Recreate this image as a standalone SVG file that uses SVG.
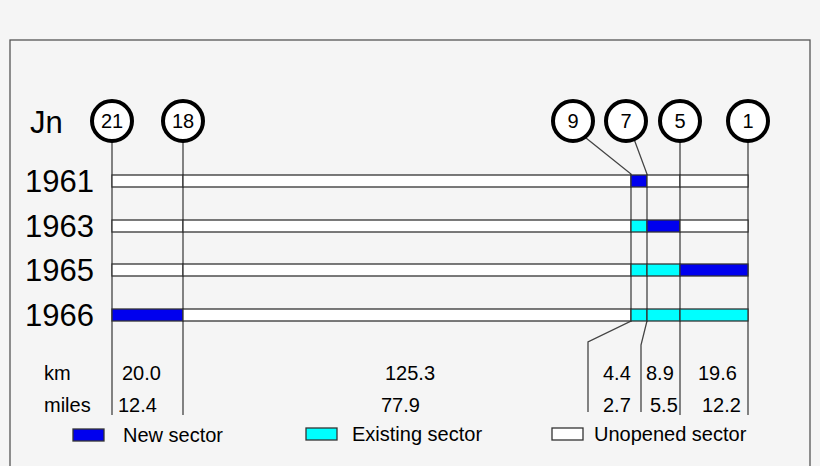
<svg xmlns="http://www.w3.org/2000/svg" width="820" height="466" viewBox="0 0 820 466">
<style>
text{font-family:"Liberation Sans",Arial,sans-serif;fill:#000}
.c{fill:#fff;stroke:#000;stroke-width:4}
.l{fill:none;stroke:#444;stroke-width:1.3}
.u{fill:#fff;stroke:#333;stroke-width:1.3}
.n{fill:#0000ee;stroke:#333;stroke-width:1.3}
.e{fill:#00ffff;stroke:#333;stroke-width:1.3}
.y{font-size:31px}
.t{font-size:20px}
.ct{font-size:20px;text-anchor:middle}
</style>
<rect width="820" height="466" fill="#f5f5f5"/>
<rect x="10" y="40" width="800" height="440" fill="none" stroke="#555" stroke-width="1.3"/>
<g id="connectors">
<path class="l" d="M112 141V415M183 141V415M680 141V415M748 141V415"/>
<path class="l" d="M586 138L631 174V321L588 342V412"/>
<path class="l" d="M634 139L647 174V321L641 345V412"/>
</g>
<g id="n21"><circle class="c" cx="112" cy="121" r="20"/><text class="ct" x="112" y="128">21</text></g>
<g id="n18"><circle class="c" cx="183" cy="121" r="20"/><text class="ct" x="183" y="128">18</text></g>
<g id="n9"><circle class="c" cx="573" cy="121" r="20"/><text class="ct" x="573" y="128">9</text></g>
<g id="n7"><circle class="c" cx="626" cy="121" r="20"/><text class="ct" x="626" y="128">7</text></g>
<g id="n5"><circle class="c" cx="680" cy="121" r="20"/><text class="ct" x="680" y="128">5</text></g>
<g id="n1"><circle class="c" cx="748" cy="121" r="20"/><text class="ct" x="748" y="128">1</text></g>
<text x="30" y="133" class="y">Jn</text>
<g id="r1961"><text x="25" y="192" class="y">1961</text>
<rect class="u" x="112" y="175" width="71" height="12"/><rect class="u" x="183" y="175" width="448" height="12"/><rect class="n" x="631" y="175" width="16" height="12"/><rect class="u" x="647" y="175" width="33" height="12"/><rect class="u" x="680" y="175" width="68" height="12" stroke-width="2"/></g>
<g id="r1963"><text x="25" y="237" class="y">1963</text>
<rect class="u" x="112" y="220" width="71" height="12"/><rect class="u" x="183" y="220" width="448" height="12"/><rect class="e" x="631" y="220" width="16" height="12"/><rect class="n" x="647" y="220" width="33" height="12"/><rect class="u" x="680" y="220" width="68" height="12" stroke-width="2"/></g>
<g id="r1965"><text x="25" y="281" class="y">1965</text>
<rect class="u" x="112" y="264" width="71" height="12"/><rect class="u" x="183" y="264" width="448" height="12"/><rect class="e" x="631" y="264" width="16" height="12"/><rect class="e" x="647" y="264" width="33" height="12"/><rect class="n" x="680" y="264" width="68" height="12"/></g>
<g id="r1966"><text x="25" y="326" class="y">1966</text>
<rect class="n" x="112" y="309" width="71" height="12"/><rect class="u" x="183" y="309" width="448" height="12"/><rect class="e" x="631" y="309" width="16" height="12"/><rect class="e" x="647" y="309" width="33" height="12"/><rect class="e" x="680" y="309" width="68" height="12"/></g>
<g id="km"><text class="t" x="44" y="380">km</text><text class="t" x="122" y="380">20.0</text><text class="t" x="385" y="380">125.3</text><text class="t" x="603" y="380">4.4</text><text class="t" x="646" y="380">8.9</text><text class="t" x="698" y="380">19.6</text></g>
<g id="miles"><text class="t" x="44" y="412">miles</text><text class="t" x="118" y="412">12.4</text><text class="t" x="381" y="412">77.9</text><text class="t" x="603" y="412">2.7</text><text class="t" x="650" y="412">5.5</text><text class="t" x="702" y="412">12.2</text></g>
<g id="legend">
<rect class="n" x="73" y="429" width="31" height="12"/><text class="t" x="123" y="442">New sector</text>
<rect class="e" x="306" y="428" width="31" height="12"/><text class="t" x="352" y="441">Existing sector</text>
<rect class="u" x="552" y="428" width="31" height="12"/><text class="t" x="594" y="441">Unopened sector</text>
</g>
</svg>
